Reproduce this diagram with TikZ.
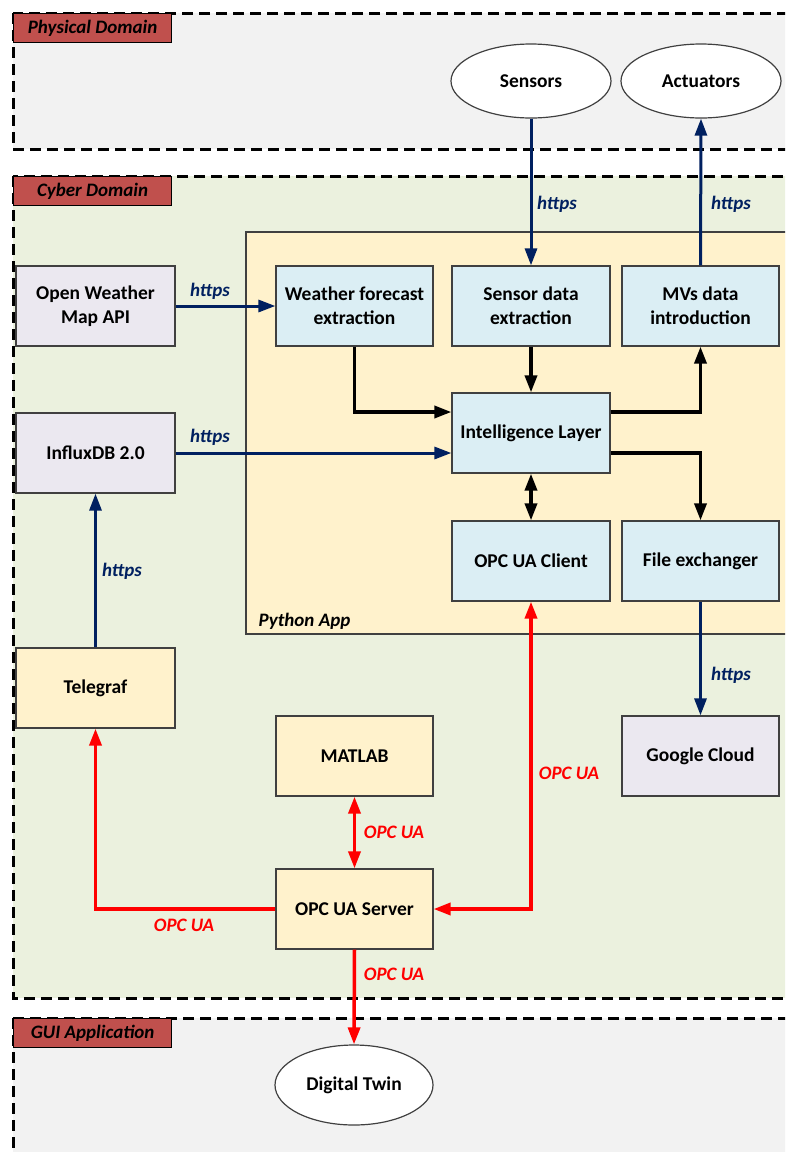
\documentclass[tikz,border=0pt]{standalone}
\usepackage{fontspec}
\setmainfont{Carlito}
\usetikzlibrary{arrows.meta,shapes.geometric}
\definecolor{physbg}{HTML}{F2F2F2}
\definecolor{cyberbg}{HTML}{EBF1DE}
\definecolor{pybg}{HTML}{FFF2CC}
\definecolor{bluebox}{HTML}{DBEEF4}
\definecolor{lavbox}{HTML}{EBE8F0}
\definecolor{tagred}{HTML}{C0504D}
\definecolor{navy}{HTML}{002060}
\definecolor{oprd}{HTML}{FF0000}
\definecolor{edge}{HTML}{404040}
\tikzset{
  base/.style={draw=edge, line width=1.2pt, align=center, inner sep=2pt,
    font=\fontsize{19.5}{24}\selectfont\bfseries, text=black},
  boxb/.style={base, rectangle, fill=bluebox, minimum height=80pt},
  boxl/.style={base, rectangle, fill=lavbox, minimum height=80pt},
  boxy/.style={base, rectangle, fill=pybg, minimum height=80pt},
  oval/.style={base, ellipse, fill=white, inner sep=0pt},
  frame/.style={dash pattern=on 11pt off 6pt, line width=3pt},
  tag/.style={draw=black, line width=1.2pt, fill=tagred, anchor=north west,
    minimum width=158pt, minimum height=29pt, inner sep=0pt,
    font=\fontsize{19}{22}\selectfont\bfseries\itshape},
  tip/.style={-{Triangle[length=17pt,width=12pt]}},
  tips/.style={{Triangle[length=17pt,width=12pt]}-{Triangle[length=17pt,width=12pt]}},
  net/.style={line width=3pt, draw=navy},
  blk/.style={line width=3.5pt, draw=black},
  opc/.style={line width=3.5pt, draw=oprd},
  hlab/.style={font=\fontsize{19}{22}\selectfont\bfseries\itshape, text=navy},
  olab/.style={font=\fontsize{19}{22}\selectfont\bfseries\itshape, text=oprd},
}
\begin{document}
\begin{tikzpicture}[x=1pt,y=-1pt]
\useasboundingbox (0,0) rectangle (785,1152);
\clip (0,0) rectangle (785,1152);
\fill[white] (0,0) rectangle (785,1152);
% domains
\fill[physbg] (13,13) rectangle (800,149);
\draw[frame] (13,13) rectangle (800,149);
\fill[cyberbg] (13,176) rectangle (800,998);
\draw[frame] (13,176) rectangle (800,998);
\fill[physbg] (13,1018) rectangle (800,1180);
\draw[frame] (13,1018) rectangle (800,1180);
\node[tag] (tphys) at (13,13) {Physical Domain};
\node[tag] (tcyb) at (13,176) {Cyber Domain};
\node[tag] (tgui) at (13,1018) {GUI Application};
% python app
\draw[draw=edge, line width=1.2pt, fill=pybg] (246,232) rectangle (800,634);
\node[font=\fontsize{19}{22}\selectfont\bfseries\itshape, anchor=west] (py) at (255,621) {Python App};
% nodes
\node[oval, minimum width=160pt, minimum height=74pt] (sens) at (531,81) {Sensors};
\node[oval, minimum width=160pt, minimum height=74pt] (act) at (701,81) {Actuators};
\node[boxl, minimum width=159pt] (owm) at (95.5,306) {Open Weather\\Map API};
\node[boxb, minimum width=157pt] (wf) at (354.5,306) {Weather forecast\\extraction};
\node[boxb, minimum width=158pt] (sd) at (531,306) {Sensor data\\extraction};
\node[boxb, minimum width=157pt] (mv) at (700.5,306) {MVs data\\introduction};
\node[boxb, minimum width=158pt] (il) at (531,433) {Intelligence Layer};
\node[boxl, minimum width=159pt] (influx) at (95.5,453) {InfluxDB 2.0};
\node[boxb, minimum width=158pt] (cli) at (531,561) {OPC UA Client};
\node[boxb, minimum width=157pt] (fx) at (700.5,561) {File exchanger};
\node[boxy, minimum width=159pt] (tel) at (95.5,688) {Telegraf};
\node[boxy, minimum width=157pt] (mat) at (354.5,756) {MATLAB};
\node[boxl, minimum width=157pt] (gc) at (700.5,756) {Google Cloud};
\node[boxy, minimum width=157pt] (srv) at (354.5,909) {OPC UA Server};
\node[oval, minimum width=158pt, minimum height=80pt] (dt) at (354,1085) {Digital Twin};
% https connectors
\draw[net,tip] (sens.south) -- (sd.north);
\draw[net,tip] (mv.north) -- (act.south);
\draw[net,tip] (owm.east) -- (wf.west);
\draw[net,tip] (influx.east) -- (influx.east -| il.west);
\draw[net,tip] (tel.north) -- (influx.south);
\draw[net,tip] (fx.south) -- (gc.north);
% internal black connectors
\draw[blk,tip] (wf.south) |- ([yshift=21pt]il.west);
\draw[blk,tip] (sd.south) -- (il.north);
\draw[blk,tip] ([yshift=21pt]il.east) -| (mv.south);
\draw[blk,tip] ([yshift=-20pt]il.east) -| (fx.north);
\draw[blk,tips] (il.south) -- (cli.north);
% OPC UA connectors
\draw[opc,tips] (cli.south) |- (srv.east);
\draw[opc,tip] (srv.west) -| (tel.south);
\draw[opc,tips] (mat.south) -- (srv.north);
\draw[opc,tip] (srv.south) -- (dt.north);
% labels
\node[hlab] (l1) at (557,204) {https};
\node[hlab] (l2) at (731,204) {https};
\node[hlab] (l3) at (210,291) {https};
\node[hlab] (l4) at (210,437) {https};
\node[hlab] (l5) at (122,571) {https};
\node[hlab] (l6) at (731,675) {https};
\node[olab] (o1) at (569,773) {OPC UA};
\node[olab] (o2) at (394,832) {OPC UA};
\node[olab] (o3) at (184,925) {OPC UA};
\node[olab] (o4) at (394,974) {OPC UA};
\end{tikzpicture}
\end{document}
